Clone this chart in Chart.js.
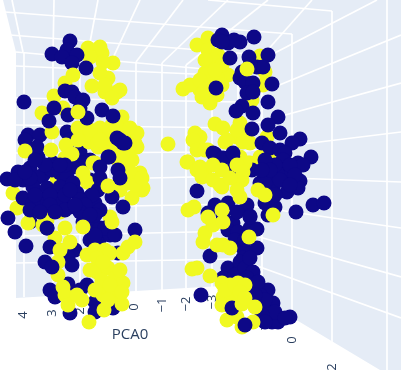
<!DOCTYPE html>
<html>
<head>
<meta charset="utf-8">
<style>
    html, body { margin: 0; padding: 0; background: #fff; }
    canvas { display: block; }
</style>
<script src="https://cdn.jsdelivr.net/npm/chart.js@4"></script>
</head>
<body>
<canvas id="chart" width="401" height="384"></canvas>
<script>
// points as seen on screen, [x, y], painted from first list to last
const navyBack = [[67,132],[70,140],[80,152],[53,163],[38,157],[90,160],[83,163],[73,167],[90,180],[90,197],[70,207],[47,210],[30,222],[83,222],[93,223],[100,228],[75,250],[68,257],[72,265],[68,284],[50,290],[55,297],[87,285],[80,290],[95,302],[70,313],[95,312],[113,308],[118,253],[135,230],[47,228],[28,135],[25,140],[40,135],[37,147],
    [233,223],[228,230],[238,232],[235,240],[243,248],[243,258],[228,268],[240,270],[223,278],[245,240],[250,228],[240,262],[235,275],[245,268]];
const yellowMid = [[88,48],[100,47],[102,53],[90,57],[113,63],[103,62],[65,83],[92,86],[108,78],[100,73],[117,92],[105,92],[105,85],[120,90],[112,98],[54,96],[42,113],[63,108],[122,117],[100,128],[78,128],[52,132],[117,127],[128,130],[135,135],[89,142],[108,138],[137,147],[98,147],[127,152],[66,145],[25,151],[72,154],[65,158],[168,144],[128,165],[140,173],[83,173],[93,163],[87,182],[108,186],[127,183],[143,188],[57,178],[13,193],[17,208],[47,220],[60,212],[95,163],[123,163],[128,180],[142,190],[132,198],[118,128],[130,128],[137,133],[135,143],[110,217],
    [112,125],[125,140],[115,148],[132,160],[118,160],[135,185],[120,190],[130,172],[142,178],[105,145],[95,135],[85,135],[78,140],[90,130],[110,130],[100,140],[122,155],
    [43,225],[28,223],[55,238],[70,242],[58,262],[58,275],[63,287],[65,295],[68,305],
    [197,45],[208,38],[208,50],[218,55],[210,65],[228,75],[217,77],[203,80],[217,95],[210,103],[202,97],[205,73],[200,90],[183,89],[190,85],[200,80],[213,60],[205,60],[222,65],[210,85],[215,70],[205,90],[222,85],[260,56],[265,72],[263,85],[252,100],
    [215,124],[223,128],[240,123],[225,142],[237,137],[243,142],[267,137],[273,153],[240,157],[208,150],[200,137],[215,163],[250,163],[242,180],[220,185],[205,170],[195,133],[193,140],[197,150],[187,162],[188,162],[197,170],[200,167],[248,163],[237,163],[260,157],[250,143],[247,133],[227,140],[237,130],[205,150],[188,210],[194,207],
    [223,297],[235,290],[232,298],[222,305],[227,320],[237,317],[228,287]];
const navyFront = [[86,68],[65,91],[72,92],[75,97],[83,100],[80,108],[87,118],[70,41],[52,54],[67,50],[77,55],[62,57],[72,63],[24,102],[54,108],[49,121],[68,115],[102,110],[113,116],[117,138],[123,143],[120,140],[125,143],[108,157],[109,157],[7,179],[18,172],[30,168],[43,175],[60,173],[23,180],[38,177],[52,170],[67,177],[33,187],[47,188],[60,187],[73,183],[23,198],[43,200],[60,200],[77,193],[33,203],[8,218],[15,232],[26,246],[47,228],[50,247],[45,262],[52,267],[90,240],[100,238],[110,235],[105,228],[95,235],[115,235],
    [100,167],[100,178],[98,190],[95,203],[100,210],[118,170],[120,178],[112,197],[123,207],[92,195],[95,215],
    [15,180],[30,178],[25,172],[35,195],[50,195],[65,195],[80,200],[85,205],[70,190],[65,165],[45,165],[60,165],[35,160],[50,205],[65,210],[80,212],[30,210],[40,212],[55,212],[75,205],[90,215],
    [222,35],[218,40],[228,43],[240,42],[234,40],[222,42],[254,37],[230,58],[249,57],[268,55],[257,67],[263,67],[240,78],[242,72],[250,65],[245,82],[253,83],[272,84],[247,93],[253,92],[268,102],[242,106],[236,111],[253,113],[278,117],[268,125],[252,129],[280,133],[262,143],[270,148],[300,139],[292,143],[311,157],[280,150],[285,153],[252,170],[298,163],[303,165],[283,160],[283,170],[300,181],[298,188],[290,175],[277,173],[267,177],[260,183],[287,192],[273,187],[265,183],[265,203],[275,207],[296,212],[313,205],[324,203],[247,205],[250,216],[275,165],[265,160],[290,165],[280,180],[295,175],[270,170],[290,185],[275,195],[262,170],
    [216,88],[215,154],[233,158],[213,153],[223,158],[233,153],[232,170],[215,205],[208,213],[228,203],[223,215],[237,212],[210,256],[197,191],
    [257,229],[257,248],[250,258],[253,272],[247,278],[252,287],[268,290],[260,295],[273,303],[267,312],[290,317],[272,322],[278,322],[250,217],[268,215],[201,295],[258,282],[265,300],[275,312],[262,315],[285,318],[255,295],[265,322],[232,308]];
const yellowTop = [[73,75],[78,112],[51,150],[108,186],[65,228],[83,227],[112,222],[60,250],[87,255],[95,250],[105,250],[110,253],[97,258],[123,253],[128,247],[135,242],[90,270],[97,272],[108,268],[115,278],[123,283],[102,280],[103,295],[115,295],[122,304],[104,310],[89,322],[82,300],[77,295],[113,290],[100,287],[103,262],[95,290],[108,300],[120,270],[110,285],[122,292],
    [247,69],[249,237],[205,233],[213,225],[223,222],[203,242],[217,245],[223,245],[230,248],[192,269],[197,268],[210,276],
    [213,165],[202,177],[213,180],[222,187],[240,180],[237,190],[240,197],[245,163],[237,165],[222,170],[230,178],[243,172],[258,190],[265,195],[273,215],[222,210],[208,217],
    [230,285],[222,283],[238,283],[225,290],[235,285],[245,285],[240,292],
    [242,304],[255,307],[253,322],[245,298],[242,327]];
const lastDots = [[245,325]];

const wallOutline = [[3,0],[401,0],[401,370],[380,370],[238,285],[16,298],[16,52],[3,0]];
const gridLines = [
    // ceiling
    [[5,12],[200,27],[292,34]], [[10,35],[200,50],[250,54]], [[208,0],[332,11]], [[16,52],[238,72]],
    [[12,0],[23,52]], [[54,0],[53,55]], [[98,0],[87,58]], [[140,0],[112,60]], [[183,0],[136,62]], [[228,0],[162,63]], [[268,0],[186,65]], [[312,0],[250,70]],
    // back wall rows
    [[16,66],[238,76]], [[16,98],[238,102]], [[16,125],[238,128]], [[16,153],[238,152]], [[16,181],[238,176]], [[16,208],[238,204]], [[16,236],[238,231]], [[16,263],[238,259]],
    // back wall columns
    [[24,52],[24,297]], [[53,55],[53,295]], [[80,57],[80,294]], [[108,60],[108,292]], [[136,62],[136,291]], [[162,63],[162,290]], [[186,65],[186,288]], [[212,68],[212,287]], [[238,72],[238,285]],
    // right wall rows
    [[238,72],[377,0]], [[238,102],[401,35]], [[238,128],[401,83]], [[238,152],[401,132]], [[238,176],[401,182]], [[238,204],[401,228]], [[238,231],[401,277]], [[238,259],[401,318]],
    // right wall columns
    [[262,52],[262,299]], [[292,34],[292,317]], [[332,11],[332,343]], [[387,0],[387,370]]
];

const tickLabels = ["4","3","2","1","0","\u22121","\u22122","\u22123","\u22122","0","2"];
const tickSpots = [[23,315],[52,313],[80,311],[108,309],[134,307],[162,305],[186,304],[212,302],[262,323],[292,340],[332,367]];
const axisTitle = "PCA0";
const axisTitleSpot = [130,335];

const NAVY = "#0d0887";
const YELLOW = "#f0f921";
const toXY = (p) => ({ x: p[0], y: p[1] });

const dotSet = (points, color) => ({
    data: points.map(toXY),
    showLine: false,
    pointRadius: 7.5,
    pointBorderWidth: 0,
    pointBackgroundColor: color,
});

const labelPlugin = {
    id: "axisText",
    beforeDatasetsDraw(chart) {
        const { ctx, scales } = chart;
        ctx.save();
        ctx.fillStyle = "#2a3f5f";
        ctx.textAlign = "center";
        ctx.textBaseline = "middle";
        ctx.font = '13px "Open Sans"';
        tickLabels.forEach((t, i) => {
            ctx.save();
            ctx.translate(scales.x.getPixelForValue(tickSpots[i][0]), scales.y.getPixelForValue(tickSpots[i][1]));
            ctx.rotate(-Math.PI / 2);
            ctx.fillText(t, 0, 0);
            ctx.restore();
        });
        ctx.font = '15px "Open Sans"';
        ctx.fillText(axisTitle, scales.x.getPixelForValue(axisTitleSpot[0]), scales.y.getPixelForValue(axisTitleSpot[1]));
        ctx.restore();
    },
};

new Chart(document.getElementById("chart"), {
    type: "scatter",
    data: {
        // chart.js paints the first dataset last
        datasets: [
            dotSet(lastDots, NAVY),
            dotSet(yellowTop, YELLOW),
            dotSet(navyFront, NAVY),
            dotSet(yellowMid, YELLOW),
            dotSet(navyBack, NAVY),
            ...gridLines.map((line) => ({
                data: line.map(toXY),
                showLine: true,
                pointRadius: 0,
                borderColor: "#ffffff",
                borderWidth: 1.7,
            })),
            {
                data: wallOutline.map(toXY),
                showLine: true,
                pointRadius: 0,
                borderWidth: 0,
                backgroundColor: "#e5ecf6",
                fill: "shape",
            },
        ],
    },
    plugins: [labelPlugin],
    options: {
        responsive: false,
        animation: false,
        layout: { padding: 0, autoPadding: false },
        plugins: { legend: { display: false }, tooltip: { enabled: false } },
        scales: {
            x: { type: "linear", min: 0, max: 401, display: false },
            y: { type: "linear", min: 0, max: 384, reverse: true, display: false },
        },
    },
});
</script>
</body>
</html>
